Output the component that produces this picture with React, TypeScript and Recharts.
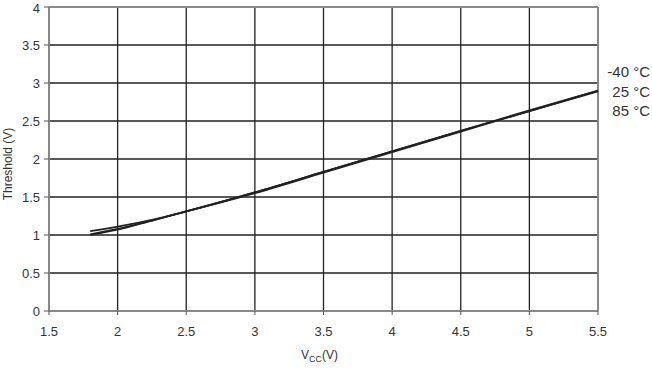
import React from "react";
import {
  LineChart,
  Line,
  XAxis,
  YAxis,
  CartesianGrid,
  ReferenceLine,
} from "recharts";

// supply voltage (V)
const vcc = [1.8, 2, 2.25, 2.5, 3, 3.5, 4, 4.5, 5, 5.5];
// threshold (V) per temperature
const tMinus40 = [1.0, 1.07, 1.19, 1.31, 1.56, 1.83, 2.1, 2.37, 2.64, 2.9];
const t25 = [1.01, 1.08, 1.19, 1.31, 1.56, 1.83, 2.1, 2.37, 2.63, 2.9];
const t85 = [1.05, 1.11, 1.2, 1.31, 1.55, 1.82, 2.09, 2.36, 2.63, 2.89];

const xTicks = [1.5, 2, 2.5, 3, 3.5, 4, 4.5, 5, 5.5];
const yTicks = [0, 0.5, 1, 1.5, 2, 2.5, 3, 3.5, 4];
const tempLabels = ["-40 °C", "25 °C", "85 °C"];

const data = vcc.map((v, i) => ({
  vcc: v,
  m40: tMinus40[i],
  t25: t25[i],
  t85: t85[i],
}));

const font = "'Liberation Sans', Arial, sans-serif";
const textColor = "#333";
const tick = { fill: textColor, fontSize: 13, fontFamily: font };

const XLabel = (props: any) => {
  const vb = props.viewBox;
  const cx = vb.x + vb.width / 2;
  return (
    <text
      x={cx - 4}
      y={359}
      textAnchor="middle"
      fill={textColor}
      fontSize={12}
      fontFamily={font}
    >
      V
      <tspan fontSize={9} dy={3}>
        CC
      </tspan>
      <tspan dy={-3}>(V)</tspan>
    </text>
  );
};

const YLabel = () => (
  <text
    x={12}
    y={164}
    transform="rotate(-90, 12, 164)"
    textAnchor="middle"
    fill={textColor}
    fontSize={12}
    fontFamily={font}
  >
    Threshold (V)
  </text>
);

export default function App() {
  return (
    <div style={{ position: "absolute", left: 0, top: 0, width: 652, height: 368, background: "#fff" }}>
      <LineChart
        width={652}
        height={368}
        data={data}
        margin={{ top: 7, right: 54, bottom: 0, left: 0 }}
      >
        <CartesianGrid stroke="#222" strokeWidth={1.3} />
        <XAxis
          dataKey="vcc"
          type="number"
          domain={[1.5, 5.5]}
          ticks={xTicks}
          height={57}
          tick={tick}
          tickLine={{ stroke: "#555" }}
          tickSize={4}
          tickMargin={12}
          axisLine={{ stroke: "#888", strokeWidth: 2 }}
          label={<XLabel />}
        />
        <YAxis
          type="number"
          domain={[0, 4]}
          ticks={yTicks}
          width={49}
          tick={tick}
          tickLine={{ stroke: "#555" }}
          tickSize={5}
          tickMargin={4}
          axisLine={{ stroke: "#888", strokeWidth: 2 }}
          label={<YLabel />}
        />
        <ReferenceLine y={4} stroke="#888" strokeWidth={2} />
        <ReferenceLine x={5.5} stroke="#888" strokeWidth={2} />
        <Line dataKey="m40" type="monotone" stroke="#222" strokeWidth={1.7} dot={false} isAnimationActive={false} />
        <Line dataKey="t25" type="monotone" stroke="#222" strokeWidth={1.7} dot={false} isAnimationActive={false} />
        <Line dataKey="t85" type="monotone" stroke="#222" strokeWidth={1.7} dot={false} isAnimationActive={false} />
      </LineChart>
      {tempLabels.map((t, i) => (
        <div
          key={t}
          style={{
            position: "absolute",
            right: 2,
            top: 63 + i * 19.5,
            fontFamily: font,
            fontSize: 15,
            color: textColor,
            textAlign: "right",
            lineHeight: "18px",
          }}
        >
          {t}
        </div>
      ))}
    </div>
  );
}
